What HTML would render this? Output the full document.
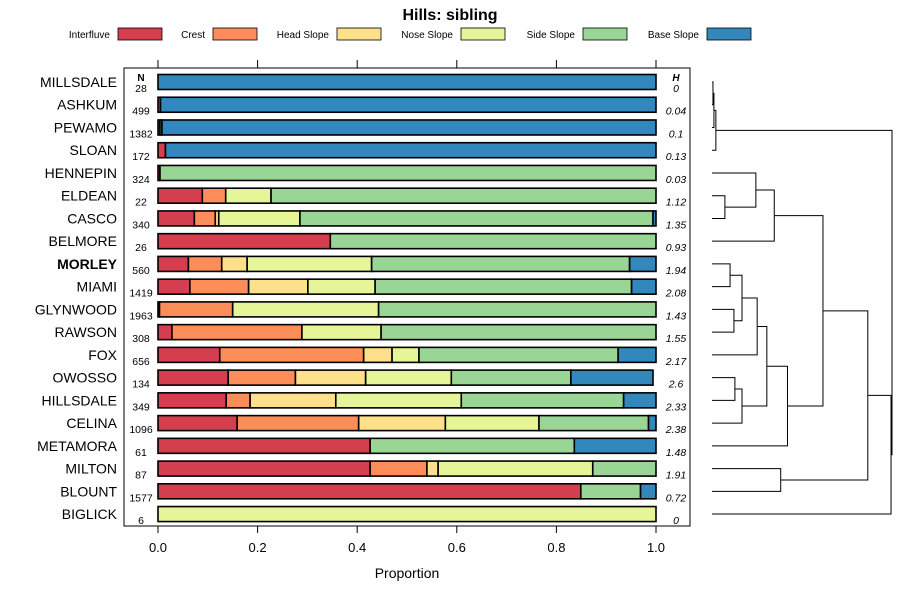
<!DOCTYPE html>
<html><head><meta charset="utf-8"><style>
body{margin:0;background:#fff;}
svg{font-family:"Liberation Sans",sans-serif;}
</style></head><body>
<svg id="chart" width="900" height="600" xmlns="http://www.w3.org/2000/svg">
<text x="450" y="20" text-anchor="middle" font-size="16" font-weight="bold">Hills: sibling</text>
<g id="legend"></g>
<rect x="124" y="68" width="566" height="458" fill="none" stroke="#000"/>
<g id="bars"></g>
<g id="axis"></g>
<g id="dendro"></g>
<text x="407" y="578" text-anchor="middle" font-size="14">Proportion</text>
</svg>
<script>
const classes = ["Interfluve","Crest","Head Slope","Nose Slope","Side Slope","Base Slope"];
const colors = ["#D53E4F","#FC8D59","#FEE08B","#E6F598","#99D594","#3288BD"];
const series = ["MILLSDALE","ASHKUM","PEWAMO","SLOAN","HENNEPIN","ELDEAN","CASCO","BELMORE","MORLEY","MIAMI","GLYNWOOD","RAWSON","FOX","OWOSSO","HILLSDALE","CELINA","METAMORA","MILTON","BLOUNT","BIGLICK"];
const counts = [28,499,1382,172,324,22,340,26,560,1419,1963,308,656,134,349,1096,61,87,1577,6];
const entropy = ["0","0.04","0.1","0.13","0.03","1.12","1.35","0.93","1.94","2.08","1.43","1.55","2.17","2.6","2.33","2.38","1.48","1.91","0.72","0"];
const props = [
 [0,0,0,0,0,1],
 [0.005,0,0,0,0,0.995],
 [0.004,0,0,0,0.004,0.992],
 [0.015,0,0,0,0,0.985],
 [0.004,0,0,0,0.996,0],
 [0.089,0.047,0,0.091,0.773,0],
 [0.073,0.042,0.007,0.163,0.709,0.006],
 [0.346,0,0,0,0.654,0],
 [0.061,0.067,0.051,0.25,0.518,0.053],
 [0.064,0.118,0.119,0.135,0.515,0.049],
 [0.003,0.147,0,0.293,0.557,0],
 [0.028,0.261,0,0.159,0.552,0],
 [0.124,0.289,0.057,0.054,0.4,0.076],
 [0.141,0.135,0.141,0.172,0.24,0.165],
 [0.137,0.048,0.172,0.252,0.326,0.065],
 [0.159,0.244,0.174,0.188,0.22,0.015],
 [0.426,0,0,0,0.41,0.164],
 [0.426,0.114,0.0225,0.3105,0.127,0],
 [0.849,0,0,0,0.12,0.031],
 [0,0,0,1,0,0]
];
const ticks = [0,0.2,0.4,0.6,0.8,1.0];
const tickLabels = ["0.0","0.2","0.4","0.6","0.8","1.0"];
// dendrogram merges: [left, right, height]; negative = leaf index, positive = merge number (1-based)
const merges = [
 [-0,-1,0.3],[1,-2,0.6],[2,-3,1.2],
 [-5,-6,4.0],[-4,4,13.6],[5,-7,19.3],
 [-8,-9,5.6],[-10,-11,6.8],[7,8,9.3],[9,-12,14.0],
 [-13,-14,7.1],[11,-15,9.3],[10,12,17.0],[13,-16,23.4],
 [6,14,34.4],[-17,-18,21.3],[15,16,48.3],[17,-19,55.5],[3,18,55.8]
];
const NS="http://www.w3.org/2000/svg";
function mk(tag,attrs,parent){const e=document.createElementNS(NS,tag);for(const k in attrs)e.setAttribute(k,attrs[k]);parent.appendChild(e);return e;}
const x0=158,x1=656;
const xs=v=>x0+v*(x1-x0);
const ys=i=>82+i*22.74;
const dx=h=>712+h*(892-712)/55.8;

// legend
const lg=document.getElementById('legend');
const legX=[110,205,329,453,575,699];
classes.forEach((c,i)=>{
  const t=mk('text',{x:legX[i],y:38,'text-anchor':'end','font-size':10},lg);t.textContent=c;
  
  
  const r=mk('rect',{x:legX[i]+8,y:28,width:44,height:12,fill:colors[i],stroke:'#000','stroke-width':0.8},lg);
  
  
});

// axis
const ax=document.getElementById('axis');
ticks.forEach((v,i)=>{
  const a=mk('line',{x1:xs(v),x2:xs(v),y1:60,y2:68,stroke:'#000'},ax);
  
  
  const b=mk('line',{x1:xs(v),x2:xs(v),y1:526,y2:533,stroke:'#000'},ax);
  
  
  const t=mk('text',{x:xs(v),y:552,'text-anchor':'middle','font-size':13},ax);t.textContent=tickLabels[i];
  
  
});

// bars
const bg=document.getElementById('bars');
let h=mk('text',{x:141,y:81,'text-anchor':'middle','font-size':10,'font-weight':'bold'},bg);h.textContent='N';


h=mk('text',{x:676,y:81,'text-anchor':'middle','font-size':10,'font-weight':'bold','font-style':'italic'},bg);h.textContent='H';


series.forEach((s,i)=>{
  const y=ys(i);
  const lab=mk('text',{x:117,y:y+5,'text-anchor':'end','font-size':14,'font-weight':s==='MORLEY'?'bold':'normal'},bg);lab.textContent=s;
  
  
  const n=mk('text',{x:141,y:y+10,'text-anchor':'middle','font-size':10.5},bg);n.textContent=counts[i];
  
  
  const e=mk('text',{x:676,y:y+10,'text-anchor':'middle','font-size':10.5,'font-style':'italic'},bg);e.textContent=entropy[i];
  
  
  let c=0;
  props[i].forEach((p,k)=>{
    if(p<=0)return;
    const r=mk('rect',{x:xs(c),y:y-7.5,width:xs(c+p)-xs(c),height:15,fill:colors[k],stroke:'#000','stroke-width':1.6},bg);
    
    
    c+=p;
  });
});

// dendrogram
const dg=document.getElementById('dendro');
const nodes=[];
function pos(id){ if(id<=0) return {x:712,y:ys(-id)}; return nodes[id-1]; }
merges.forEach(m=>{
  const a=pos(m[0]),b=pos(m[1]),x=dx(m[2]);
  const p=mk('path',{d:`M${a.x},${a.y}H${x}V${b.y}H${b.x}`,fill:'none',stroke:'#000','stroke-width':1},dg);
  
  
  nodes.push({x:x,y:(a.y+b.y)/2});
});
</script>
</body></html>
